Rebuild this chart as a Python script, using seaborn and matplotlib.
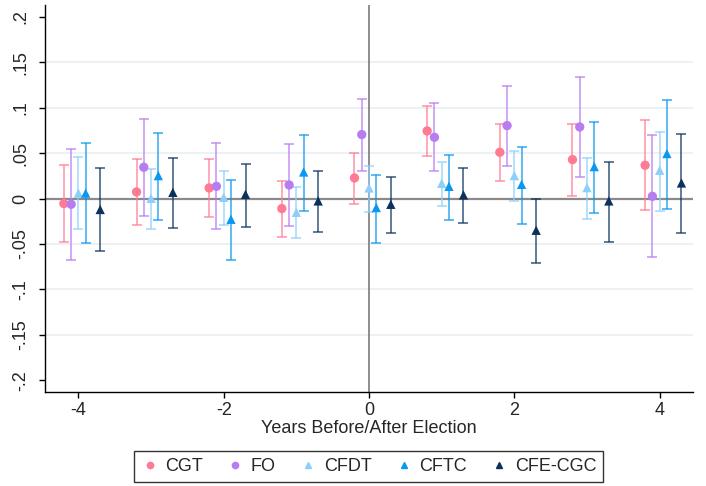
import numpy as np
import pandas as pd
import matplotlib
matplotlib.use("Agg")
import matplotlib.pyplot as plt
from matplotlib.lines import Line2D
import seaborn as sns

# Event-study estimates by union, years relative to election
years = [-4, -3, -2, -1, 0, 1, 2, 3, 4]
unions = ["CGT", "FO", "CFDT", "CFTC", "CFE-CGC"]

cgt_est = [-0.0055, 0.0073, 0.0117, -0.0110, 0.0227, 0.0745, 0.0510, 0.0429, 0.0367]
cgt_lo = [-0.0480, -0.0290, -0.0203, -0.0419, -0.0055, 0.0466, 0.0194, 0.0033, -0.0129]
cgt_hi = [0.0367, 0.0436, 0.0436, 0.0194, 0.0506, 0.1020, 0.0826, 0.0822, 0.0866]

fo_est = [-0.0063, 0.0345, 0.0135, 0.0150, 0.0705, 0.0675, 0.0804, 0.0789, 0.0025]
fo_lo = [-0.0676, -0.0187, -0.0338, -0.0301, 0.0300, 0.0300, 0.0363, 0.0238, -0.0643]
fo_hi = [0.0547, 0.0880, 0.0616, 0.0605, 0.1100, 0.1053, 0.1244, 0.1340, 0.0697]

cfdt_est = [0.0060, 0.0003, 0.0014, -0.0151, 0.0117, 0.0168, 0.0253, 0.0121, 0.0312]
cfdt_lo = [-0.0338, -0.0338, -0.0287, -0.0437, -0.0143, -0.0085, -0.0030, -0.0224, -0.0132]
cfdt_hi = [0.0455, 0.0326, 0.0304, 0.0128, 0.0363, 0.0403, 0.0529, 0.0447, 0.0738]

cftc_est = [0.0060, 0.0253, -0.0228, 0.0293, -0.0099, 0.0135, 0.0157, 0.0352, 0.0496]
cftc_lo = [-0.0490, -0.0239, -0.0676, -0.0132, -0.0485, -0.0239, -0.0280, -0.0158, -0.0110]
cftc_hi = [0.0610, 0.0727, 0.0205, 0.0705, 0.0264, 0.0480, 0.0568, 0.0844, 0.1086]

cfe_est = [-0.0120, 0.0069, 0.0047, -0.0026, -0.0063, 0.0040, -0.0349, -0.0026, 0.0172]
cfe_lo = [-0.0580, -0.0327, -0.0312, -0.0371, -0.0378, -0.0268, -0.0709, -0.0474, -0.0382]
cfe_hi = [0.0334, 0.0447, 0.0385, 0.0304, 0.0235, 0.0337, 0.0000, 0.0403, 0.0716]

ytick_vals = [-0.2, -0.15, -0.1, -0.05, 0, 0.05, 0.1, 0.15, 0.2]
ytick_labels = ["-.2", "-.15", "-.1", "-.05", "0", ".05", ".1", ".15", ".2"]

# Styling
offsets = {"CGT": -0.2, "FO": -0.1, "CFDT": 0.0, "CFTC": 0.1, "CFE-CGC": 0.3}
palette = {"CGT": "#ff7b93", "FO": "#b87cf2", "CFDT": "#8ccffa",
           "CFTC": "#0a98f0", "CFE-CGC": "#0b325e"}
markers = {"CGT": "o", "FO": "o", "CFDT": "^", "CFTC": "^", "CFE-CGC": "^"}

est = [cgt_est, fo_est, cfdt_est, cftc_est, cfe_est]
lo = [cgt_lo, fo_lo, cfdt_lo, cftc_lo, cfe_lo]
hi = [cgt_hi, fo_hi, cfdt_hi, cftc_hi, cfe_hi]

rows = []
for u, e, l, h in zip(unions, est, lo, hi):
    for yr, ev, lv, hv in zip(years, e, l, h):
        rows.append({"union": u, "year": yr, "x": yr + offsets[u],
                     "est": ev, "lo": lv, "hi": hv})
df = pd.DataFrame(rows)

sns.set_style("white")
plt.rcParams["font.family"] = ["Liberation Sans", "DejaVu Sans"]

fig = plt.figure(figsize=(7.06, 4.86), dpi=100)
ax = fig.add_axes([0.0637, 0.1934, 0.918, 0.796])

# gridlines
for v in [-0.15, -0.1, -0.05, 0.05, 0.1, 0.15]:
    ax.axhline(v, color="#eaf0f3", lw=1.3, zorder=0)
ax.axhline(0, color="#8a8a8a", lw=1.6, zorder=1)
ax.axvline(0, color="#7a7a7a", lw=1.2, zorder=1)

# confidence intervals
for u in unions:
    d = df[df["union"] == u]
    ax.errorbar(d["x"], d["est"],
                yerr=[d["est"] - d["lo"], d["hi"] - d["est"]],
                fmt="none", ecolor=palette[u], elinewidth=1.3,
                capsize=3.5, capthick=1.3, alpha=0.7, zorder=2)

sns.scatterplot(data=df, x="x", y="est", hue="union", style="union",
                palette=palette, markers=markers, hue_order=unions,
                style_order=unions, s=45, edgecolor="none", linewidth=0,
                legend=False, ax=ax, zorder=3)

ax.set_xlim(-4.46, 4.46)
ax.set_ylim(-0.213, 0.213)
ax.set_xticks([-4, -2, 0, 2, 4])
ax.set_xticklabels(["-4", "-2", "0", "2", "4"], fontsize=13)
ax.set_yticks(ytick_vals)
ax.set_yticklabels(ytick_labels, fontsize=13, rotation=90, va="center")
ax.tick_params(axis="both", direction="out", length=4, width=1, color="black",
               bottom=True, left=True, pad=3)
ax.tick_params(axis="y", pad=7)
ax.set_xlabel("Years Before/After Election", fontsize=13, labelpad=1)
ax.set_ylabel("")
sns.despine(ax=ax)
for s in ["left", "bottom"]:
    ax.spines[s].set_color("black")
    ax.spines[s].set_linewidth(1)

handles = [Line2D([], [], ls="none", marker=markers[u], color=palette[u],
                  markersize=4.5) for u in unions]
leg = fig.legend(handles, unions, loc="center", bbox_to_anchor=(0.522, 0.0395),
                 ncol=5, fontsize=13, frameon=True, fancybox=False,
                 edgecolor="black", handletextpad=0.35, columnspacing=1.3,
                 borderpad=0.38, handlelength=1.0)
leg.get_frame().set_linewidth(1)

fig.savefig("out.png", dpi=100)
